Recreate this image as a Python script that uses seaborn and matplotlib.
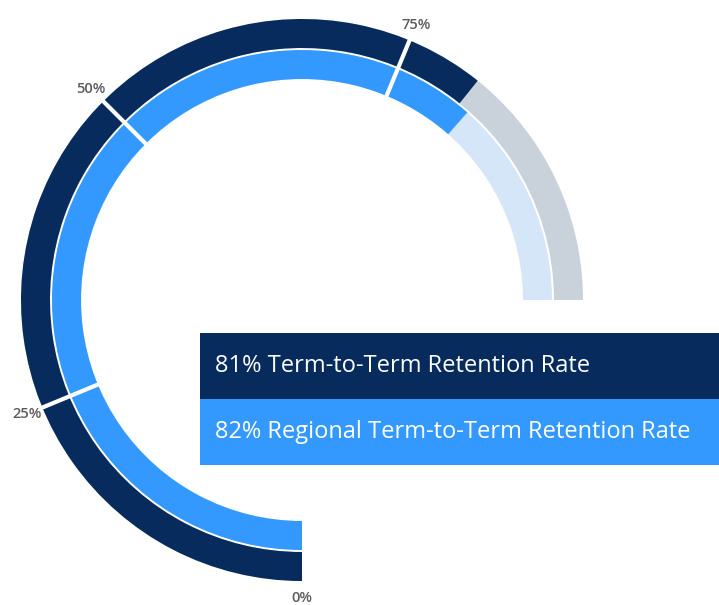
import numpy as np
import matplotlib
matplotlib.use("Agg")
import matplotlib.pyplot as plt
import seaborn as sns

# values
series = ["81% Term-to-Term Retention Rate", "82% Regional Term-to-Term Retention Rate"]
rates = [81, 82]
ring_colors = ["#072b5c", "#3399ff"]
track_colors = ["#c9d1da", "#d5e6f9"]
tick_vals = [0, 25, 50, 75]
tick_labels = ["0%", "25%", "50%", "75%"]

sns.set_theme(style="white")
plt.rcParams["font.family"] = ["Open Sans", "DejaVu Sans"]

W, H = 719, 605
fig = plt.figure(figsize=(W / 100, H / 100), dpi=100)

cx, cy, rmax = 302, 300, 290
ax = fig.add_axes([(cx - rmax) / W, (H - cy - rmax) / H, 2 * rmax / W, 2 * rmax / H],
                  projection="polar")
ax.set_theta_zero_location("S")
ax.set_theta_direction(-1)
ax.set_ylim(0, rmax)
ax.set_axis_off()

span = 1.5 * np.pi
to_theta = lambda p: p / 100 * span

# ring radii (outer = term-to-term, inner = regional)
rings = [(252, 29), (221, 29)]
for (r0, dr), val, col, tcol in zip(rings, rates, ring_colors, track_colors):
    ax.bar(0, dr, width=span, bottom=r0, align="edge", color=tcol, linewidth=0)
    ax.bar(0, dr, width=to_theta(val), bottom=r0, align="edge", color=col, linewidth=0)

for v, lab in zip(tick_vals, tick_labels):
    th = to_theta(v)
    if v > 0:
        ax.plot([th, th], [215, 288], color="white", lw=3, solid_capstyle="butt")
    ax.text(th, 298, lab, ha="center", va="center", fontsize=10.5, color="#5c5c5c",
            fontweight="semibold", clip_on=False)

# legend boxes drawn as a seaborn bar plot
lax = fig.add_axes([200 / W, (H - 465) / H, 519 / W, 132 / H])
sns.barplot(x=[1, 1], y=series, hue=series, palette=ring_colors, orient="h",
            width=1.0, legend=False, ax=lax, linewidth=0, saturation=1)
lax.set_xlim(0, 1)
lax.set_ylim(1.5, -0.5)
lax.set_axis_off()
for i, lab in enumerate(series):
    lax.text(15 / 519, i, lab, ha="left", va="center", color="white", fontsize=17)

fig.savefig("out.png", dpi=100)
